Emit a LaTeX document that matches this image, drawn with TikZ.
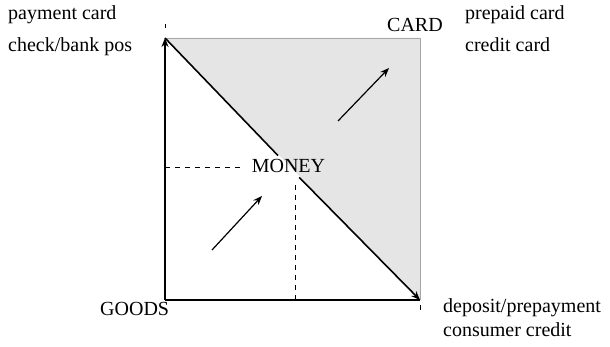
\documentclass[tikz,border=0pt]{standalone}
\usepackage{fontspec}
\setmainfont{Liberation Serif}
\usetikzlibrary{arrows.meta}
\begin{document}
\begin{tikzpicture}[x=1pt,y=1pt,
  lbl/.style={inner sep=0pt,font=\fontsize{20}{24}\selectfont},
  axis/.style={line width=2pt},
  diag/.style={line width=1.6pt},
  tip/.style={-{Stealth[length=9pt,width=7pt]}},
  dsh/.style={line width=0.9pt,dash pattern=on 5pt off 5pt},
  tick/.style={line width=1pt}]
\useasboundingbox (0,0) rectangle (610,347);
% corners
\coordinate (O) at (165,47);
\coordinate (T) at (165,309);
\coordinate (R) at (420,47);
\coordinate (TR) at (420,309);
% shaded triangle
\fill[gray!20] (T) -- (TR) -- (R) -- cycle;
\draw[gray!70,line width=0.8pt] (T) -- (TR) -- (R);
% labels
\node[lbl,anchor=base west] (pay) at (8,327) {payment card};
\node[lbl,anchor=base west] (chk) at (8,295) {check/bank pos};
\node[lbl,anchor=base west] (pre) at (465,327) {prepaid card};
\node[lbl,anchor=base west] (cre) at (465,295) {credit card};
\node[lbl,anchor=base west] (card) at (387,315) {CARD};
\node[lbl,anchor=base west] (goods) at (100,31) {GOODS};
\node[lbl,anchor=base west] (dep) at (443,34) {deposit/prepayment};
\node[lbl,anchor=base west] (con) at (443,10) {consumer credit};
\node[lbl,anchor=base,inner sep=4pt] (money) at (288.5,174) {MONEY};
% axes
\draw[axis] (R) -- (O);
\draw[axis,tip] (O) -- (T);
% diagonal
\draw[diag] (T) -- (money);
\draw[diag,tip] (money) -- (R);
% ticks
\coordinate (t1) at (165,319);
\coordinate (t2) at (165,323);
\coordinate (b1) at (420,37);
\coordinate (b2) at (420,42);
\draw[tick] (t1) -- (t2);
\draw[tick] (b1) -- (b2);
% dashed guides
\coordinate (h1) at (165,180);
\coordinate (h2) at (240,180);
\coordinate (v1) at (295,162);
\coordinate (v2) at (295,47);
\draw[dsh] (h1) -- (h2);
\draw[dsh] (v1) -- (v2);
% arrows
\coordinate (a1) at (212,97);
\coordinate (a2) at (262,151);
\coordinate (c1) at (338,226);
\coordinate (c2) at (389,279);
\draw[line width=1.2pt,tip] (a1) -- (a2);
\draw[line width=1.2pt,tip] (c1) -- (c2);
\end{tikzpicture}
\end{document}
